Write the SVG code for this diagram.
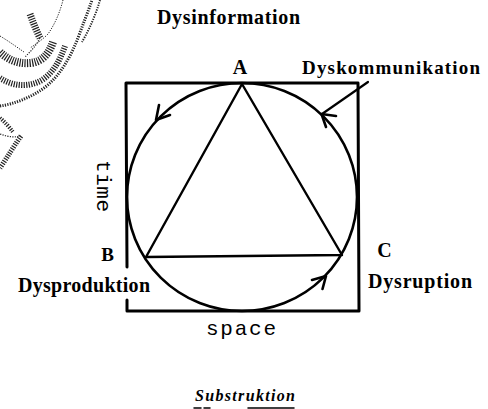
<svg xmlns="http://www.w3.org/2000/svg" width="488" height="409" viewBox="0 0 488 409">
  <style>
    .lbl { font-family: "Liberation Serif", "DejaVu Serif", serif; font-weight: bold; fill: #000; }
    .mono { font-family: "Liberation Mono", "DejaVu Sans Mono", monospace; fill: #000; }
    .ital { font-family: "Liberation Serif", "DejaVu Serif", serif; font-weight: bold; font-style: italic; fill: #000; }
    .line { fill: none; stroke: #000; stroke-linecap: round; stroke-linejoin: round; }
    .stip { fill: none; stroke: #222; stroke-dasharray: 1.2 1.3; stroke-linecap: butt; }
  </style>

  <rect width="488" height="409" fill="#fff"/>

  <!-- stippled sketch fragment, top-left -->
  <g id="sketch">
    <path class="stip" stroke-width="1" d="M63,0 C60,12 55,24 48,34 C42,40 36,44 30,48"/>
    <path class="stip" stroke-width="1" d="M0,36 C10,42 18,48 24,52"/>
    <path class="stip" stroke-width="7" d="M30,14 C33,22 36,30 40,38"/>
    <path class="stip" stroke-width="1.2" d="M40,38 C36,46 30,52 25,57"/>
    <path class="stip" stroke-width="8" d="M0,52 C8,60 18,64 30,63 C42,62 49,54 53,42"/>
    <path class="stip" stroke-width="6" d="M0,78 C12,86 28,88 42,80 C54,72 60,60 65,46"/>
    <path class="stip" stroke-width="3" d="M0,106 C14,104 30,98 44,88 C60,76 70,58 78,38 C83,24 88,12 92,0"/>
    <path class="stip" stroke-width="2" d="M100,0 C96,14 90,28 82,42"/>
    <path class="stip" stroke-width="4" d="M0,118 C5,122 10,128 13,132"/>
    <path class="stip" stroke-width="5" d="M21,136 C14,146 8,156 0,168"/>
    <path class="stip" stroke-width="1.2" d="M21,136 C12,138 6,136 0,134"/>
  </g>

  <!-- frame: square, circle, triangle -->
  <g id="frame">
    <path class="line" stroke-width="3" d="M127,267 L126,83 L358,83 L359,311 L127,311 L127,300"/>
    <ellipse class="line" stroke-width="2.6" cx="242" cy="197" rx="115" ry="114"/>
    <path class="line" stroke-width="2.4" d="M242,84 L146,257 L342,255 Z"/>
  </g>

  <!-- vertices -->
  <g id="node-A">
    <text class="lbl" x="240" y="74" font-size="20" text-anchor="middle">A</text>
  </g>
  <g id="node-B">
    <text class="lbl" x="107.5" y="261" font-size="19" text-anchor="middle">B</text>
    <text class="lbl" x="18" y="292" font-size="20" textLength="132" lengthAdjust="spacing">Dysproduktion</text>
  </g>
  <g id="node-C">
    <text class="lbl" x="384.5" y="257" font-size="20" text-anchor="middle">C</text>
    <text class="lbl" x="368" y="288" font-size="20" textLength="104" lengthAdjust="spacing">Dysruption</text>
  </g>

  <!-- labels -->
  <g id="label-dysinformation">
    <text class="lbl" x="157" y="24" font-size="20" textLength="143" lengthAdjust="spacing">Dysinformation</text>
  </g>
  <g id="label-dyskommunikation">
    <text class="lbl" x="302" y="74" font-size="19" textLength="178" lengthAdjust="spacing">Dyskommunikation</text>
  </g>
  <g id="label-time">
    <text class="mono" transform="translate(97,160) rotate(90)" font-size="21" textLength="52" lengthAdjust="spacing">time</text>
  </g>
  <g id="label-space">
    <text class="mono" x="206" y="335" font-size="21" textLength="70" lengthAdjust="spacing">space</text>
  </g>
  <g id="label-substruktion">
    <text class="ital" x="195" y="401" font-size="16" textLength="100" lengthAdjust="spacing">Substruktion</text>
    <path class="line" stroke-width="1.5" d="M194,408 L201,408 M204,408 L210,408 M248,408 L294,408"/>
  </g>

  <!-- connectors: circulation arrowheads and pointer -->
  <g id="connectors">
    <path class="line" stroke-width="2.6" d="M170,115 L156,120 L159,105"/>
    <path class="line" stroke-width="2.6" d="M336,116 L321.5,114 L326,127"/>
    <path class="line" stroke-width="2.6" d="M312,280 L326,276 L322.5,289"/>
    <path class="line" stroke-width="2.2" d="M368,82 L322,114"/>
  </g>
</svg>
